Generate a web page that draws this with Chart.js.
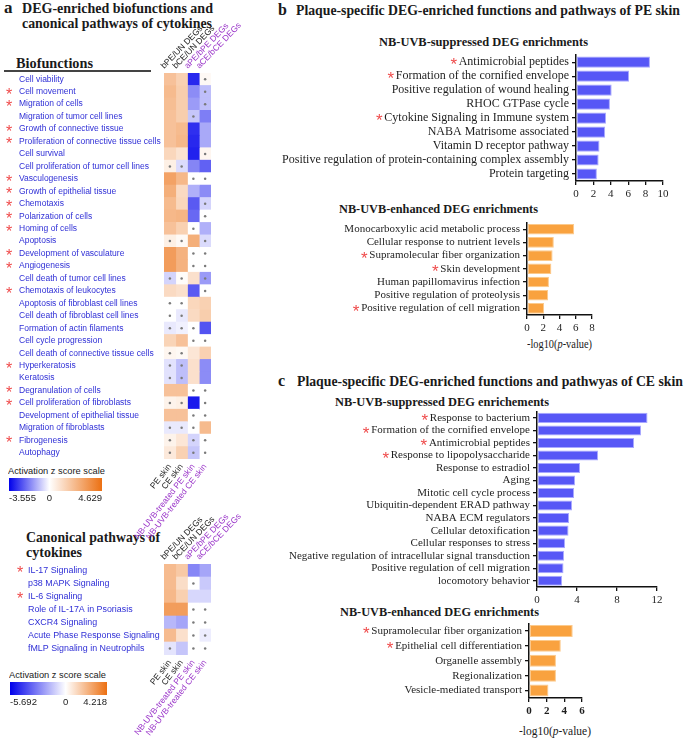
<!DOCTYPE html>
<html><head><meta charset="utf-8">
<script src="https://cdn.jsdelivr.net/npm/chart.js@4.4.1/dist/chart.umd.min.js"></script>
<style>
html,body{margin:0;padding:0;background:#fff;}
#root{position:relative;width:685px;height:739px;overflow:hidden;background:#fff;}
canvas{position:absolute;}
.t{position:absolute;white-space:nowrap;font-family:"Liberation Serif","Times New Roman",serif;color:#1a1a1a;transform-origin:0 50%;}
.b{font-weight:bold;}
.s{font-family:"Liberation Sans",Arial,sans-serif;}
</style></head>
<body><div id="root">
<div class="t b" style="left:4px;top:0px;font-size:17px;line-height:16px;">a</div>
<div class="t b fit" data-w="191" style="left:22px;top:0px;font-size:14.5px;line-height:16px;">DEG-enriched biofunctions and</div>
<div class="t b fit" data-w="190" style="left:22px;top:15px;font-size:14.5px;line-height:16px;">canonical pathways of cytokines</div>
<div class="t b fit" data-w="77" style="left:16px;top:55px;font-size:15px;line-height:16px;">Biofunctions</div>
<div style="position:absolute;left:4px;top:70px;width:147px;height:1.5px;background:#444;"></div>
<div class="t s fit" data-w="97" style="left:8px;top:465px;font-size:9.5px;line-height:12px;">Activation z score scale</div>
<div class="t b fit" data-w="134" style="left:26px;top:529px;font-size:14.5px;line-height:16px;">Canonical pathways of</div>
<div class="t b fit" data-w="56" style="left:26px;top:544px;font-size:14.5px;line-height:16px;">cytokines</div>
<div class="t s fit" data-w="97" style="left:9px;top:669px;font-size:9.5px;line-height:12px;">Activation z score scale</div>

<div class="t b" style="left:278px;top:2px;font-size:16px;line-height:16px;">b</div>
<div class="t b fit" data-w="384" style="left:296px;top:2px;font-size:14.5px;line-height:16px;">Plaque-specific DEG-enriched functions and pathways of PE skin</div>
<div class="t b fit" data-w="209" style="left:379px;top:35px;font-size:13.5px;line-height:14px;">NB-UVB-suppressed DEG enrichments</div>
<div class="t b fit" data-w="199" style="left:339px;top:202px;font-size:13.5px;line-height:14px;">NB-UVB-enhanced DEG enrichments</div>
<div class="t fit" data-w="65" style="left:527px;top:337px;font-size:12px;line-height:14px;">-log10(<i>p</i>-value)</div>

<div class="t b" style="left:278px;top:373px;font-size:16px;line-height:16px;">c</div>
<div class="t b fit" data-w="386" style="left:297px;top:373px;font-size:14.5px;line-height:16px;">Plaque-specific DEG-enriched functions and pathwyas of CE skin</div>
<div class="t b fit" data-w="214" style="left:335px;top:395px;font-size:13.5px;line-height:14px;">NB-UVB-suppressed DEG enrichements</div>
<div class="t b fit" data-w="199" style="left:340px;top:605px;font-size:13.5px;line-height:14px;">NB-UVB-enhanced DEG enrichments</div>
<div class="t fit" data-w="72" style="left:519px;top:724px;font-size:12px;line-height:14px;">-log10(<i>p</i>-value)</div>
</div>
<script>
// ---------------- DATA ----------------
const colTop = ['bPE/UN DEGs','bCE/UN DEGs','aPE/bPE DEGs','aCE/bCE DEGs'];
const colBottom = ['PE skin','CE skin','NB-UVB-treated PE skin','NB-UVB-treated CE skin'];

const bioRows = ['Cell viability','Cell movement','Migration of cells','Migration of tumor cell lines',
 'Growth of connective tissue','Proliferation of connective tissue cells','Cell survival',
 'Cell proliferation of tumor cell lines','Vasculogenesis','Growth of epithelial tissue','Chemotaxis',
 'Polarization of cells','Homing of cells','Apoptosis','Development of vasculature','Angiogenesis',
 'Cell death of tumor cell lines','Chemotaxis of leukocytes','Apoptosis of fibroblast cell lines',
 'Cell death of fibroblast cell lines','Formation of actin filaments','Cell cycle progression',
 'Cell death of connective tissue cells','Hyperkeratosis','Keratosis','Degranulation of cells',
 'Cell proliferation of fibroblasts','Development of epithelial tissue','Migration of fibroblasts',
 'Fibrogenesis','Autophagy'];
const bioStar = [0,1,1,0,1,1,0,0,1,1,1,1,1,0,1,1,0,1,0,0,0,0,0,1,0,1,1,0,0,1,0];
const bioBPE = [2.0,2.2,2.1,2.0,2.0,2.0,1.3,0.5,3.0,2.6,2.2,2.3,2.0,0.5,3.2,3.2,-0.6,1.2,0,0,-0.3,1.4,0.3,-0.4,-0.4,2.0,0.4,2.0,-0.3,0.4,0.7];
const bioBCE = [1.5,1.6,1.6,1.6,2.2,2.3,0.9,-0.5,2.3,1.2,1.3,2.4,1.5,0.2,2.5,2.5,0.1,1.0,0,-0.3,-0.2,2.0,0.2,-0.9,-0.9,2.0,0.5,2.0,-0.3,0.8,1.5];
const bioAPE = [-3.0,-1.6,-1.4,-0.8,-2.9,-3.0,-3.1,-1.7,0,-1.1,-2.3,-2.1,0,2.6,0,0,1.0,-2.3,1.3,1.2,0,0,0.8,1.0,1.0,0,-3.2,0,0,-0.6,-0.8];
const bioACE = [0.2,-0.9,-0.9,-1.8,-1.2,-1.2,0.3,-2.2,0,-1.6,-0.6,0,-1.1,-0.5,0,0,-1.4,0,1.5,1.6,-2.4,0,1.5,-1.6,-1.6,0,0,0,2.2,0,0];
const bioDotBPE = [0,0,0,0,0,0,0,1,0,0,0,0,0,1,0,0,1,0,1,1,1,0,1,1,1,0,1,0,1,1,1];
const bioDotBCE = [0,0,0,0,0,0,0,1,0,0,0,0,0,1,0,0,1,0,1,1,1,0,1,1,1,0,1,0,1,0,0];
const bioDotAPE = [0,0,0,1,0,0,0,0,1,0,0,0,1,0,1,1,0,0,0,0,1,1,0,0,0,1,0,1,1,1,1];
const bioDotACE = [1,1,1,0,0,0,1,0,1,0,1,1,0,1,1,1,1,1,0,0,0,1,0,0,0,1,1,1,0,1,1];
const bioZmin = -3.555, bioZmax = 4.629;
const bioScaleTicks = [-3.555, 0, 4.629];

const cytoRows = ['IL-17 Signaling','p38 MAPK Signaling','IL-6 Signaling','Role of IL-17A in Psoriasis',
 'CXCR4 Signaling','Acute Phase Response Signaling','fMLP Signaling in Neutrophils'];
const cytoStar = [1,0,1,0,0,0,0];
const cytoBPE = [2.0,2.0,2.1,2.9,-1.6,2.0,-0.6];
const cytoBCE = [1.6,1.0,1.4,2.9,-2.0,0.9,-1.3];
const cytoAPE = [-2.7,0,-0.9,0,0,0,0];
const cytoACE = [-2.0,-1.2,-0.9,0,0,-0.4,0];
const cytoDotBPE = [0,0,0,0,0,0,1];
const cytoDotBCE = [0,0,0,0,0,0,0];
const cytoDotAPE = [0,1,0,1,1,1,1];
const cytoDotACE = [0,0,0,1,1,1,1];
const cytoZmin = -5.692, cytoZmax = 4.218;
const cytoScaleTicks = [-5.692, 0, 4.218];

const peSupLabels = ['Antimicrobial peptides','Formation of the cornified envelope','Positive regulation of wound healing',
 'RHOC GTPase cycle','Cytokine Signaling in Immune system','NABA Matrisome associated','Vitamin D receptor pathway',
 'Positive regulation of protein-containing complex assembly','Protein targeting'];
const peSupValues = [8.5,6.1,4.1,3.9,3.45,3.35,2.7,2.6,2.4];
const peSupStar = [1,1,0,0,1,0,0,0,0];

const peEnhLabels = ['Monocarboxylic acid metabolic process','Cellular response to nutrient levels',
 'Supramolecular fiber organization','Skin development','Human papillomavirus infection',
 'Positive regulation of proteolysis','Positive regulation of cell migration'];
const peEnhValues = [5.8,3.3,3.15,3.0,2.7,2.6,2.1];
const peEnhStar = [0,0,1,1,0,0,1];

const ceSupLabels = ['Response to bacterium','Formation of the cornified envelope','Antimicrobial peptides',
 'Response to lipopolysaccharide','Response to estradiol','Aging','Mitotic cell cycle process',
 'Ubiquitin-dependent ERAD pathway','NABA ECM regulators','Cellular detoxification','Cellular responses to stress',
 'Negative regulation of intracellular signal transduction','Positive regulation of cell migration','locomotory behavior'];
const ceSupValues = [11.05,10.4,9.7,6.1,4.3,3.8,3.7,3.5,3.2,3.15,2.8,2.7,2.65,2.5];
const ceSupStar = [1,1,1,1,0,0,0,0,0,0,0,0,0,0];

const ceEnhLabels = ['Supramolecular fiber organization','Epithelial cell differentiation','Organelle assembly',
 'Regionalization','Vesicle-mediated transport'];
const ceEnhValues = [4.95,3.6,3.05,3.05,2.2];
const ceEnhStar = [1,1,0,0,0];

// ---------------- HELPERS ----------------
document.querySelectorAll('.fit').forEach(el => {
  const w = el.getBoundingClientRect().width;
  const target = parseFloat(el.dataset.w);
  if (w > 0) el.style.transform = 'scaleX(' + (target / w).toFixed(4) + ')';
});

Chart.defaults.animation = false;
Chart.defaults.font.family = '"Liberation Serif", "Times New Roman", serif';
const root = document.getElementById('root');
const BLUE = [0,0,235], ORANGE = [236,112,18];
function zColor(z, zmin, zmax){
  let t, c;
  if (z >= 0) { t = Math.min(1, z / zmax); c = ORANGE; }
  else { t = Math.min(1, z / zmin); c = BLUE; }
  const r = Math.round(255 + (c[0]-255)*t), g = Math.round(255 + (c[1]-255)*t), b = Math.round(255 + (c[2]-255)*t);
  return `rgb(${r},${g},${b})`;
}
function mkCanvas(L, T, W, H){
  W = Math.round(W); H = Math.round(H);
  const c = document.createElement('canvas');
  c.width = W; c.height = H;
  c.style.left = L + 'px'; c.style.top = T + 'px';
  c.style.width = W + 'px'; c.style.height = H + 'px';
  root.appendChild(c);
  return c;
}

const starPlugin = {
  id: 'stars',
  afterDraw(chart, args, opts){
    if (!opts || !opts.flags) return;
    const ys = chart.scales.y, ctx = chart.ctx;
    const tickFont = Chart.helpers.toFont(ys.options.ticks.font);
    const labels = ys.getLabels();
    ctx.save();
    opts.flags.forEach((f, i) => {
      if (!f) return;
      const y = ys.getPixelForTick(i);
      let x;
      if (opts.x !== undefined) x = opts.x;
      else {
        ctx.font = tickFont.string;
        const w = ctx.measureText(labels[i]).width;
        x = ys.right - opts.tl - ys.options.ticks.padding - w - opts.gap;
      }
      ctx.font = opts.size + 'px "Liberation Sans", Arial, sans-serif';
      ctx.fillStyle = '#ef4b4b';
      ctx.textAlign = 'center';
      ctx.textBaseline = 'middle';
      ctx.fillText('*', x, y + opts.dy);
    });
    ctx.restore();
  }
};
const dotPlugin = {
  id: 'dots',
  afterDatasetsDraw(chart, args, opts){
    if (!opts || !opts.dots) return;
    const xs = chart.scales.x, ys = chart.scales.y, ctx = chart.ctx;
    ctx.save();
    ctx.fillStyle = '#7a7a7a';
    opts.dots.forEach((col, c) => col.forEach((d, r) => {
      if (!d) return;
      ctx.beginPath();
      ctx.arc(xs.getPixelForValue(c + 0.5), ys.getPixelForValue(r), 1.25, 0, Math.PI*2);
      ctx.fill();
    }));
    ctx.restore();
  }
};

function heatmap(g, rows, cols, dots, stars, zmin, zmax, fontSize){
  const cv = mkCanvas(g.L, g.T, g.W, g.H);
  const datasets = cols.map(vals => ({
    data: rows.map(() => 1),
    backgroundColor: vals.map(z => zColor(z, zmin, zmax)),
    borderWidth: 0, barPercentage: 1, categoryPercentage: 1
  }));
  const headColor = ctx => ctx.index < 2 ? '#222222' : '#9a35c9';
  new Chart(cv, {
    type: 'bar',
    data: { labels: rows, datasets },
    plugins: [dotPlugin, starPlugin],
    options: {
      responsive: false, indexAxis: 'y',
      layout: { padding: { left: g.labelLeft, right: g.L + g.W - g.aR, top: 0, bottom: 0 } },
      plugins: { legend: { display: false }, tooltip: { enabled: false },
        dots: { dots }, stars: { flags: stars, x: g.starX, size: 16, dy: 3.5 } },
      scales: {
        x: { type: 'linear', stacked: true, min: 0, max: 4, display: false },
        y: { type: 'category', stacked: true, offset: true,
             afterFit: s => { s.width = g.aL - g.L - g.labelLeft; },
             grid: { display: false, drawTicks: false }, border: { display: false },
             ticks: { crossAlign: 'far', autoSkip: false, padding: 0, color: '#2f2fd6',
                      font: { family: '"Liberation Sans", Arial, sans-serif', size: fontSize } } },
        xt: { type: 'category', axis: 'x', position: 'top', labels: colTop, offset: true,
              afterFit: s => { s.height = g.aT - g.T; },
              grid: { display: false, drawTicks: false }, border: { display: false },
              ticks: { minRotation: 46, maxRotation: 46, autoSkip: false, padding: 2, color: headColor,
                       font: { family: '"Liberation Sans", Arial, sans-serif', size: 8.5 } } },
        xb: { type: 'category', axis: 'x', position: 'bottom', labels: colBottom, offset: true,
              afterFit: s => { s.height = g.T + g.H - g.aB; },
              grid: { display: false, drawTicks: false }, border: { display: false },
              ticks: { minRotation: 52, maxRotation: 52, autoSkip: false, padding: 3, color: headColor,
                       font: { family: '"Liberation Sans", Arial, sans-serif', size: 8.5 } } }
      }
    }
  });
}

function colorbar(g, zmin, zmax, tickVals){
  const cv = mkCanvas(g.L, g.T, g.W, g.H);
  const p0 = (0 - zmin) / (zmax - zmin);
  new Chart(cv, {
    type: 'bar',
    data: { labels: [''], datasets: [{
      data: [[zmin, zmax]], borderWidth: 0, barPercentage: 1, categoryPercentage: 1,
      backgroundColor: ctx => {
        const a = ctx.chart.chartArea; if (!a) return '#fff';
        const gr = ctx.chart.ctx.createLinearGradient(a.left, 0, a.right, 0);
        gr.addColorStop(0, zColor(zmin, zmin, zmax));
        gr.addColorStop(p0, '#ffffff');
        gr.addColorStop(1, zColor(zmax, zmin, zmax));
        return gr;
      } }] },
    options: {
      responsive: false, indexAxis: 'y',
      layout: { padding: { left: g.aL - g.L, right: g.L + g.W - g.aR, top: g.aT - g.T, bottom: 0 } },
      plugins: { legend: { display: false }, tooltip: { enabled: false } },
      scales: {
        y: { display: false },
        x: { type: 'linear', min: zmin, max: zmax,
             afterBuildTicks: s => { s.ticks = tickVals.map(v => ({ value: v })); },
             afterFit: s => { s.height = g.T + g.H - g.aB; },
             grid: { display: false, drawTicks: false }, border: { display: false },
             ticks: { align: 'inner', padding: 2, color: '#222',
                      callback: v => v === 0 ? '0' : v.toFixed(3),
                      font: { family: '"Liberation Sans", Arial, sans-serif', size: 9.5 } } }
      }
    }
  });
}

function barChart(g, labels, values, stars, fill, edge, xmax, step, fontSize, tickBold){
  const W = g.aR + g.padR - g.L, H = g.aB + g.xH + 2 - g.T;
  const cv = mkCanvas(g.L, g.T, W, H);
  const axisGrid = { display: true, drawOnChartArea: false, drawTicks: true, tickLength: 4, color: '#111', lineWidth: 1.3, offset: false };
  new Chart(cv, {
    type: 'bar',
    data: { labels, datasets: [{ data: values, backgroundColor: fill, borderColor: edge, borderWidth: 1,
      borderSkipped: false, barPercentage: 0.8, categoryPercentage: 1 }] },
    plugins: [starPlugin],
    options: {
      responsive: false, indexAxis: 'y',
      layout: { padding: { left: 0, top: g.aT - g.T, right: g.padR, bottom: 2 } },
      plugins: { legend: { display: false }, tooltip: { enabled: false },
        stars: { flags: stars, tl: 4, gap: 5, size: 17, dy: 3.5 } },
      scales: {
        y: { type: 'category', offset: true, afterFit: s => { s.width = g.aL - g.L; },
             grid: axisGrid, border: { display: true, color: '#111', width: 1.5 },
             ticks: { autoSkip: false, padding: 3, color: '#1e1e1e',
                      font: { family: '"Liberation Serif", "Times New Roman", serif', size: fontSize } } },
        x: { type: 'linear', min: 0, max: xmax, afterFit: s => { s.height = g.xH; },
             grid: axisGrid, border: { display: true, color: '#111', width: 1.5 },
             ticks: { stepSize: step, padding: 3, color: '#1e1e1e', maxRotation: 0,
                      font: { family: '"Liberation Serif", "Times New Roman", serif', size: 11, weight: tickBold ? 'bold' : 'normal' } } }
      }
    }
  });
}

// ---------------- BUILD ----------------
heatmap({L:0, T:0, W:270, H:560, aL:164, aR:211, aT:73, aB:459, labelLeft:19, starX:9},
  bioRows, [bioBPE, bioBCE, bioAPE, bioACE], [bioDotBPE, bioDotBCE, bioDotAPE, bioDotACE], bioStar, bioZmin, bioZmax, 8.5);
colorbar({L:0, T:478, W:125, H:28, aL:9, aR:102, aT:478, aB:491}, bioZmin, bioZmax, bioScaleTicks);

heatmap({L:0, T:500, W:270, H:239, aL:164, aR:211, aT:564, aB:655, labelLeft:28, starX:20},
  cytoRows, [cytoBPE, cytoBCE, cytoAPE, cytoACE], [cytoDotBPE, cytoDotBCE, cytoDotAPE, cytoDotACE], cytoStar, cytoZmin, cytoZmax, 8.9);
colorbar({L:0, T:682, W:125, H:28, aL:10, aR:107, aT:682, aB:695}, cytoZmin, cytoZmax, cytoScaleTicks);

const BAR_BLUE = '#5757f6', EDGE_BLUE = '#a9a9ff', BAR_OR = '#f9a23f', EDGE_OR = '#fcca8c';
barChart({L:276, T:45, aL:576, aR:663, aT:53, aB:181, padR:12, xH:20}, peSupLabels, peSupValues, peSupStar, BAR_BLUE, EDGE_BLUE, 10, 2, 12, false);
barChart({L:300, T:213, aL:527, aR:592, aT:221, aB:315, padR:14, xH:20}, peEnhLabels, peEnhValues, peEnhStar, BAR_OR, EDGE_OR, 8, 2, 11, false);
barChart({L:280, T:402, aL:537, aR:657, aT:410, aB:587, padR:14, xH:20}, ceSupLabels, ceSupValues, ceSupStar, BAR_BLUE, EDGE_BLUE, 12, 4, 11, false);
barChart({L:330, T:614, aL:529, aR:582, aT:622, aB:698, padR:14, xH:20}, ceEnhLabels, ceEnhValues, ceEnhStar, BAR_OR, EDGE_OR, 6, 2, 11, true);
</script>
</body></html>
